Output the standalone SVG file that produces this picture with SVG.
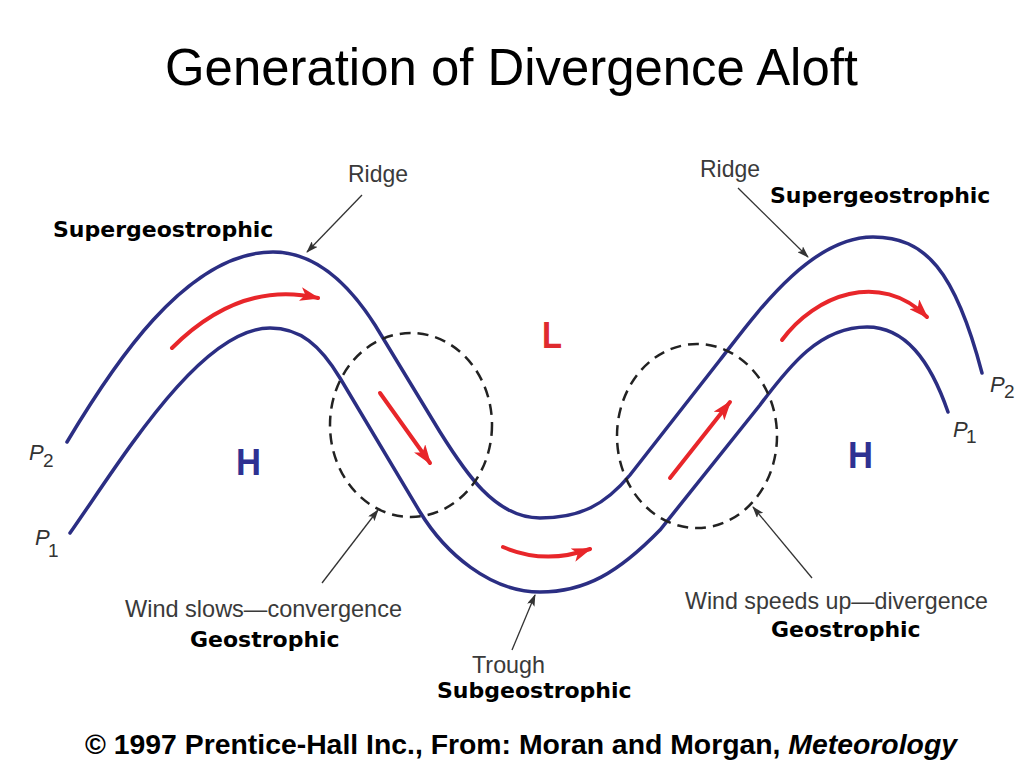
<svg xmlns="http://www.w3.org/2000/svg" width="1024" height="768" viewBox="0 0 1024 768">
<defs>
<style>
.title{font-family:"Liberation Sans",Arial,sans-serif;font-size:52px;fill:#000}
.foot{font-family:"Liberation Sans",Arial,sans-serif;font-size:28px;font-weight:bold;fill:#000}
.bold{font-family:"DejaVu Sans",Verdana,sans-serif;font-size:22px;font-weight:bold;fill:#000}
.lab{font-family:"Liberation Sans",Arial,sans-serif;font-size:24px;fill:#3a3a3a}
.p{font-family:"Liberation Sans",Arial,sans-serif;font-style:italic;font-size:22px;fill:#333}
.ps{font-family:"Liberation Sans",Arial,sans-serif;font-size:19px;fill:#333}
.hl{font-family:"Liberation Sans",Arial,sans-serif;font-weight:bold;font-size:37px}
.iso{fill:none;stroke:#2b2e83;stroke-width:3.5;stroke-linecap:round}
.wind{fill:none;stroke:#e8262a;stroke-width:4;stroke-linecap:round}
.ptr{fill:none;stroke:#333;stroke-width:1.3}
.zone{fill:none;stroke:#222;stroke-width:2.5;stroke-dasharray:11 7}
</style>
<marker id="redhead" viewBox="0 0 20 14" refX="18" refY="7" markerWidth="20" markerHeight="14" markerUnits="userSpaceOnUse" orient="auto">
<path d="M0,0 L20,7 L0,14 L5,7 z" fill="#e8262a"/>
</marker>
<marker id="blkhead" viewBox="0 0 12 8" refX="11" refY="4" markerWidth="12" markerHeight="8" markerUnits="userSpaceOnUse" orient="auto">
<path d="M0,0 L12,4 L0,8 L2.5,4 z" fill="#333"/>
</marker>
</defs>
<rect width="1024" height="768" fill="#fff"/>

<text class="title" x="165" y="85" textLength="693" lengthAdjust="spacingAndGlyphs">Generation of Divergence Aloft</text>

<g id="isobars">
<path id="p2" class="iso" d="M67,442 C110,370 185,252 273,252 C305,252 340,270 375,325 L440,432 C465,472 495,518 540,518 C580,518 605,505 630,475 L720,360 C755,315 810,237 873,237 C925,237 955,270 982,373"/>
<path id="p1" class="iso" d="M70,533 C120,462 200,328 270,328 C300,328 320,345 340,378 L420,512 C445,553 490,592 540,592 C585,592 618,573 660,530 L760,405 C790,365 820,327 867,327 C905,327 930,360 948,412"/>
</g>

<g id="zones">
<ellipse id="convergence-zone" class="zone" cx="411" cy="425" rx="81" ry="92"/>
<ellipse id="divergence-zone" class="zone" cx="697" cy="436" rx="80" ry="92"/>
</g>

<g id="winds">
<path class="wind" d="M172,348 Q240,280 318,298" marker-end="url(#redhead)"/>
<path class="wind" d="M380,393 L430,463" marker-end="url(#redhead)"/>
<path class="wind" d="M503,547 Q545,565 590,549" marker-end="url(#redhead)"/>
<path class="wind" d="M670,478 L730,402" marker-end="url(#redhead)"/>
<path class="wind" d="M782,340 C815,295 880,270 927,317" marker-end="url(#redhead)"/>
</g>

<g id="connectors">
<line class="ptr" x1="362" y1="195" x2="307" y2="252" marker-end="url(#blkhead)"/>
<line class="ptr" x1="738" y1="188" x2="808" y2="257" marker-end="url(#blkhead)"/>
<line class="ptr" x1="322" y1="583" x2="378" y2="510" marker-end="url(#blkhead)"/>
<line class="ptr" x1="812" y1="578" x2="753" y2="507" marker-end="url(#blkhead)"/>
<line class="ptr" x1="512" y1="650" x2="535" y2="595" marker-end="url(#blkhead)"/>
</g>

<g id="ridge-left"><text class="lab" x="348" y="182" textLength="60" lengthAdjust="spacingAndGlyphs">Ridge</text></g>
<g id="ridge-right"><text class="lab" x="700" y="177" textLength="60" lengthAdjust="spacingAndGlyphs">Ridge</text></g>
<g id="super-left"><text class="bold" x="53" y="237">Supergeostrophic</text></g>
<g id="super-right"><text class="bold" x="770" y="203">Supergeostrophic</text></g>
<g id="conv-label">
<text class="lab" x="125" y="617" textLength="277" lengthAdjust="spacingAndGlyphs">Wind slows—convergence</text>
<text class="bold" x="190" y="647">Geostrophic</text>
</g>
<g id="div-label">
<text class="lab" x="685" y="609" textLength="303" lengthAdjust="spacingAndGlyphs">Wind speeds up—divergence</text>
<text class="bold" x="771" y="637">Geostrophic</text>
</g>
<g id="trough-label">
<text class="lab" x="472" y="673" textLength="73" lengthAdjust="spacingAndGlyphs">Trough</text>
<text class="bold" x="437" y="698">Subgeostrophic</text>
</g>

<g id="pressure-labels">
<text class="p" x="29" y="460">P</text><text class="ps" x="43" y="467">2</text>
<text class="p" x="35" y="545">P</text><text class="ps" x="48" y="557">1</text>
<text class="p" x="990" y="392">P</text><text class="ps" x="1004" y="398">2</text>
<text class="p" x="953" y="437">P</text><text class="ps" x="966" y="443">1</text>
</g>

<g id="centers">
<text class="hl" x="236" y="475" fill="#2e3192" textLength="25" lengthAdjust="spacingAndGlyphs">H</text>
<text class="hl" x="848" y="468" fill="#2e3192" textLength="25" lengthAdjust="spacingAndGlyphs">H</text>
<text class="hl" x="542" y="348" fill="#df2a2e" textLength="20" lengthAdjust="spacingAndGlyphs">L</text>
</g>

<text class="foot" x="85" y="754" textLength="872" lengthAdjust="spacingAndGlyphs">© 1997 Prentice-Hall Inc., From: Moran and Morgan, <tspan font-style="italic">Meteorology</tspan></text>
</svg>
